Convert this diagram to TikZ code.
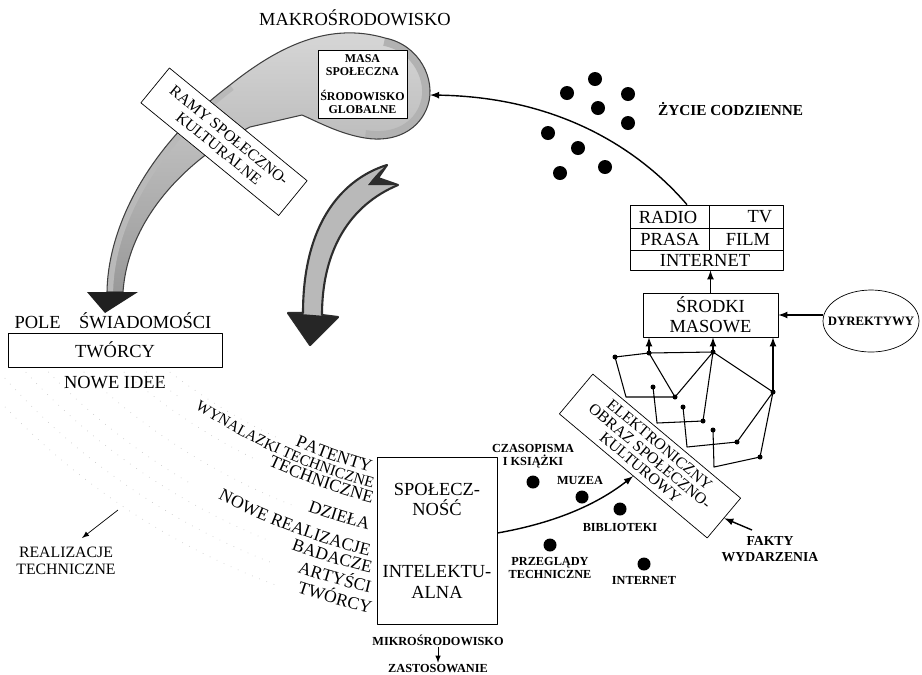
\documentclass[tikz,border=0pt]{standalone}
\usepackage{fontspec}
\setmainfont{Liberation Serif}
\usetikzlibrary{arrows,shapes.geometric,decorations.text}

\newcommand\arcfont{\fontsize{10}{12}\selectfont}
\newcommand\arcsmall{\fontsize{8.8}{10}\selectfont}
\newcommand\arclabel[5]{%
  \path[decorate,decoration={text along path,text align=right,text={|#4|#5}}]
    ([shift={(528,93)}]#2:#1) arc[start angle=#2,end angle=#3,radius=#1];}
\newcommand\blobpath{(107,-292)
  .. controls (108,-225) and (150,-145) .. (230,-85)
  .. controls (280,-45) and (330,-22) .. (385,-38)
  .. controls (420,-45) and (436,-80) .. (428,-105)
  .. controls (420,-130) and (395,-143) .. (365,-138)
  .. controls (340,-134) and (318,-122) .. (302,-115)
  -- (250,-127)
  .. controls (185,-160) and (128,-220) .. (123,-292) -- cycle}

\tikzset{
  big/.style={font=\fontsize{10.5}{11.5}\selectfont, align=center},
  small/.style={font=\bfseries\fontsize{7}{7.6}\selectfont, align=center},
  box/.style={draw, fill=white, inner sep=0pt, align=center},
  link/.style={->, line width=0.8pt},
  net/.style={line width=0.6pt},
  faint/.style={gray!40, loosely dotted, line width=0.4pt},
}

\begin{document}
\begin{tikzpicture}[x=0.02cm, y=0.02cm, >=latex, line join=round]
\useasboundingbox (0,0) rectangle (922,-674);

\shade[top color=gray!30, bottom color=gray!80] \blobpath;
\begin{scope}
\clip \blobpath;
\draw[gray!60, line width=9pt] (385,-38)
  .. controls (420,-45) and (436,-80) .. (428,-105)
  .. controls (420,-130) and (395,-143) .. (365,-138);
\draw[gray!55, line width=7pt] (107,-292)
  .. controls (108,-225) and (150,-145) .. (230,-85);
\end{scope}
\draw[gray!50!black, line width=0.6pt] \blobpath;
\fill[gray!25!black] (87,-292) -- (138,-292) -- (105,-313) -- cycle;
\fill[gray!55, draw=gray!35!black, line width=1.2pt] (387,-165)
  .. controls (345,-178) and (303,-220) .. (303,-313)
  -- (288,-313) -- (310,-345) -- (338,-317) -- (322,-315)
  .. controls (322,-250) and (350,-205) .. (398,-185)
  -- (378,-178) -- cycle;
\fill[gray!30!black] (288,-313) -- (310,-345) -- (338,-317) -- cycle;
\fill[gray!35!black] (387,-165) -- (378,-178) -- (398,-185) -- (368,-185)
  .. controls (372,-180) and (378,-172) .. (387,-165);

\node[big, anchor=base] (makro) at (355,-25) {MAKROŚRODOWISKO};
\node[box, minimum width=1.78cm, minimum height=1.36cm,
  font=\bfseries\fontsize{6.8}{7.2}\selectfont] (masa) at (362.5,-84)
  {MASA\\SPOŁECZNA\\[7pt]ŚRODOWISKO\\GLOBALNE};
\node[box, rotate=-39.3, minimum width=3.56cm, minimum height=0.9cm,
  font=\fontsize{9}{9.5}\selectfont] (ramy) at (224,-141.75)
  {RAMY SPOŁECZNO-\\KULTURALNE};

\foreach \p in {(595,-79),(567,-93),(628,-94),(598,-108),(628,-123),
  (548,-133),(578,-148),(560,-173),(605,-167)}
  \fill \p circle (7);
\node[anchor=base west, font=\bfseries\fontsize{8.7}{9}\selectfont] (zycie)
  at (652,-115) {ŻYCIE CODZIENNE};

\node[box, minimum width=3.06cm, minimum height=1.3cm] (media) at (706.5,-237.5) {};
\draw (630,-228) -- (783,-228) (630,-250) -- (783,-250) (709,-205) -- (709,-250);
\node[big] (radio) at (668,-217) {RADIO};
\node[big] (tv) at (760,-217) {TV};
\node[big] (prasa) at (670,-239) {PRASA};
\node[big] (film) at (748,-239) {FILM};
\node[big] (inter) at (705,-260) {INTERNET};
\node[box, big, minimum width=2.7cm, minimum height=0.88cm] (srodki) at (710.5,-315)
  {ŚRODKI\\MASOWE};
\node[draw, ellipse, minimum width=1.92cm, minimum height=1.24cm] (dyr) at (871,-321) {};
\node[small, font=\bfseries\fontsize{7.3}{8}\selectfont] (dyrt) at (dyr) {DYREKTYWY};

\coordinate (blob) at (430,-95);
\draw[link] ([xshift=-0.39cm]media.north) .. controls (640,-150) and (560,-97) .. (blob);
\draw[link] (srodki.north) -- (srodki.north |- media.south);
\draw[link] (dyr.west |- srodki) -- (srodki.east);

\foreach \n/\x/\y in {a/615/357, b/649/353, c/713/352, d/773/392, e/675/397,
  f/626/397, g/653/387, h/657/423, i/703/421, j/683/407, k/687/447,
  l/737/442, m/713/430, n/714/467, o/760/457}
  \coordinate (net-\n) at (\x,-\y);
\draw[net] (net-a) -- (net-b) -- (net-c) -- (net-d)
  (net-a) -- (net-f) -- (net-e) -- (net-c) -- (net-i)
  (net-b) -- (net-e)
  (net-g) -- (net-h) -- (net-i)
  (net-j) -- (net-k) -- (net-l) -- (net-d)
  (net-m) -- (net-n) -- (net-o) -- (net-d);
\foreach \n in {a,b,c,d,e,g,i,j,l,m,o}
  \fill (net-\n) circle (2.5);
\foreach \n in {b,c,d}
  \draw[link] (net-\n) -- (net-\n |- srodki.south);

\node[box, rotate=-40, minimum width=3.86cm, minimum height=1.04cm,
  font=\fontsize{9}{8.6}\selectfont] (elektr) at (650,-456)
  {ELEKTRONICZNY\\OBRAZ SPOŁECZNO-\\KULTUROWY};
\node[small, font=\bfseries\fontsize{7.8}{9}\selectfont] (fakty) at (770,-549)
  {FAKTY\\WYDARZENIA};
\coordinate (fk) at (752,-530);
\draw[link] (fk) -- (elektr.east);

\node[box, big, minimum width=2.4cm, minimum height=3.34cm] (spol) at (437,-540.5)
  {SPOŁECZ-\\NOŚĆ\\[24pt]INTELEKTU-\\ALNA};
\draw[link] ([yshift=0.15cm]spol.east) .. controls (560,-522) and (600,-502) .. (elektr.south);
\node[small, inner sep=1pt] (mikro) at (438,-640) {MIKROŚRODOWISKO};
\node[small, inner sep=1pt] (zast) at (438,-669) {ZASTOSOWANIE};
\draw[->] (mikro) -- (zast);

\foreach \p in {(533,-482),(582,-497),(620,-509),(550,-545),(644,-564)}
  \fill \p circle (6.5);
\node[small] (czas) at (533,-456) {CZASOPISMA\\I KSIĄŻKI};
\node[small] (muzea) at (580,-480) {MUZEA};
\node[small] (bibl) at (620,-527) {BIBLIOTEKI};
\node[small] (przeg) at (550,-568) {PRZEGLĄDY\\TECHNICZNE};
\node[small] (inet) at (644,-580) {INTERNET};

\node[big, anchor=base] (pole) at (113,-328) {POLE\hspace{1em}ŚWIADOMOŚCI};
\node[box, big, minimum width=4.28cm, minimum height=0.68cm] (tworcy) at (115,-350) {TWÓRCY};
\node[big] (idee) at (115,-383) {NOWE IDEE};
\node[font=\fontsize{9}{10}\selectfont, align=center] (realiz) at (66,-561)
  {REALIZACJE\\TECHNICZNE};
\coordinate (r0) at (118,-510);
\coordinate (r1) at (82,-538);
\draw[->] (r0) -- (r1);

\foreach \r/\s/\e in {587/232.4/245, 601.6/230.6/235, 616/229/243.5,
  643/226.3/248.5, 668/224.1/240, 684.5/222.8/248, 704/222/249, 723.5/223.7/250}
  \draw[faint] ([shift={(528,93)}]\s:\r) arc[start angle=\s, end angle=\e, radius=\r];

\arclabel{587}{226.4}{254.4}{\arcfont}{PATENTY}
\arclabel{601.6}{225}{255}{\arcsmall}{WYNALAZKI TECHNICZNE}
\arclabel{616}{227}{255.3}{\arcfont}{TECHNICZNE}
\arclabel{643}{228}{255.6}{\arcfont}{DZIEŁA}
\arclabel{668}{228}{256.2}{\arcfont}{NOWE REALIZACJE}
\arclabel{684.5}{229}{256.7}{\arcfont}{BADACZE}
\arclabel{704}{229}{257}{\arcfont}{ARTYŚCI}
\arclabel{723.5}{229}{257.4}{\arcfont}{TWÓRCY}
\end{tikzpicture}
\end{document}
